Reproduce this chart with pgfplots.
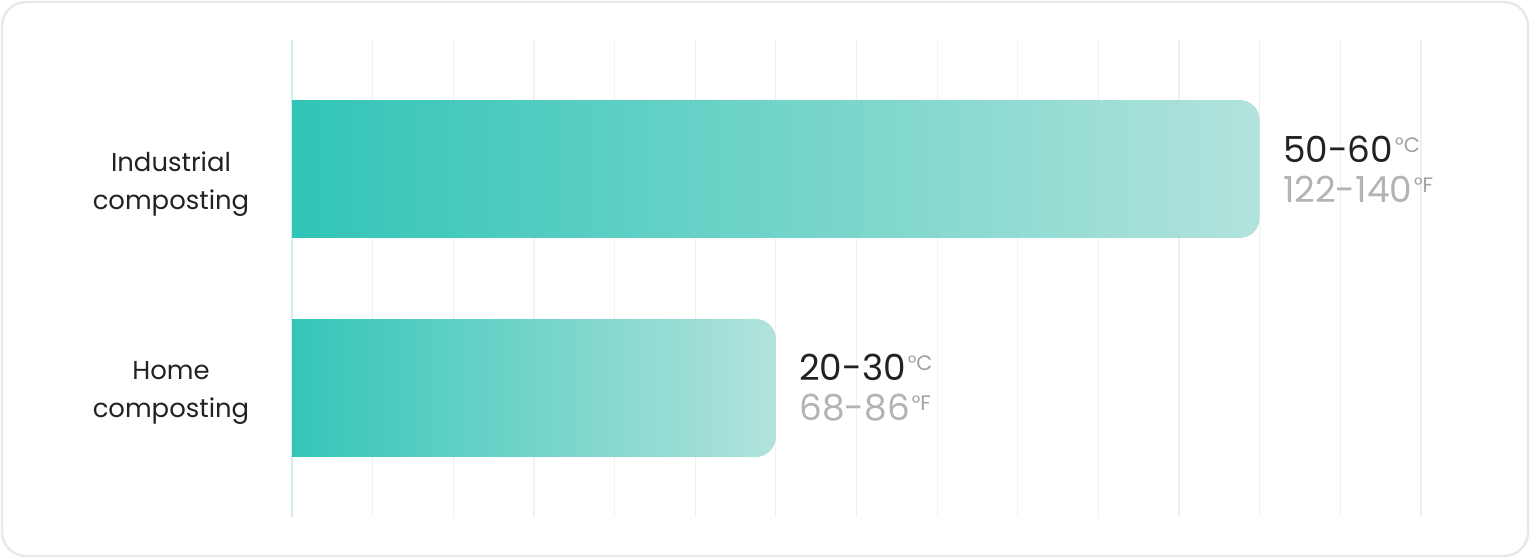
\documentclass[border=0pt]{standalone}
\usepackage{pgfplots}
\pgfplotsset{compat=1.18}
\usepackage{fontspec}
\setmainfont{Poppins}
\definecolor{barL}{HTML}{2EC4B6}
\definecolor{barR}{HTML}{B2E3DC}
\definecolor{gridc}{HTML}{F0F0F0}
\definecolor{axc}{HTML}{D3EFEC}
\definecolor{txt}{HTML}{222222}
\definecolor{sub}{HTML}{B3B3B3}
\definecolor{deg}{HTML}{A0A0A0}
\definecolor{framec}{HTML}{E8E8E8}
\begin{document}
\begin{tikzpicture}
\useasboundingbox (0,0) rectangle (765bp,279bp);
\draw[framec, line width=1.2bp, rounded corners=12bp] (1bp,1bp) rectangle (764bp,278bp);
\begin{axis}[
  at={(146bp,20.5bp)}, anchor=south west,
  width=564.5bp, height=238.5bp, scale only axis,
  xmin=0, xmax=70, ymin=-0.589, ymax=1.589,
  axis line style={draw=none},
  xtick={5,10,...,70}, xticklabels={},
  extra x ticks={0}, extra x tick labels={},
  extra x tick style={grid style={axc, line width=0.8bp}},
  xmajorgrids, grid style={gridc, line width=0.6bp},
  major tick length=0pt,
  ytick={0.032,0.986}, yticklabels={Home\\composting, Industrial\\composting},
  yticklabel style={align=center, font=\fontsize{13}{19}\selectfont, text=txt, anchor=center, xshift=-60.5bp, yshift=-6bp},
  clip=true,
]
\addplot[draw=none, left color=barL, right color=barR, rounded corners=10bp]
  coordinates {(-1.3,1.315) (60,1.315) (60,0.685) (-1.3,0.685)} -- cycle;
\addplot[draw=none, left color=barL, right color=barR, rounded corners=10bp]
  coordinates {(-1.3,0.315) (30,0.315) (30,-0.315) (-1.3,-0.315)} -- cycle;
\coordinate (ind) at (axis cs:60,1);
\coordinate (hom) at (axis cs:30,0);
\end{axis}
\node[anchor=west, align=left, inner sep=0pt, xshift=11.5bp, font=\fontsize{18}{20}\selectfont] at (ind)
  {{\color{txt}50-60}\hspace{1bp}\raisebox{5bp}{\fontsize{10.5}{10}\selectfont\color{deg}°C}\\{\color{sub}122-140}\hspace{1bp}\raisebox{5bp}{\fontsize{10.5}{10}\selectfont\color{deg}°F}};
\node[anchor=west, align=left, inner sep=0pt, xshift=11.5bp, font=\fontsize{18}{20}\selectfont] at (hom)
  {{\color{txt}20-30}\hspace{1bp}\raisebox{5bp}{\fontsize{10.5}{10}\selectfont\color{deg}°C}\\{\color{sub}68-86}\hspace{1bp}\raisebox{5bp}{\fontsize{10.5}{10}\selectfont\color{deg}°F}};
\end{tikzpicture}
\end{document}
